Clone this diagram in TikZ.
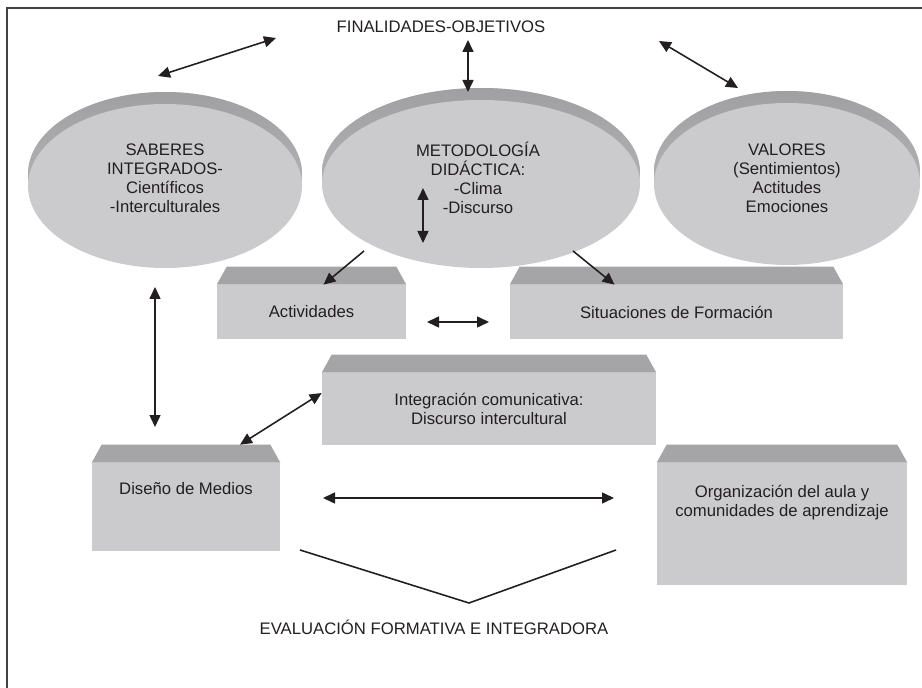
\documentclass[tikz,border=0pt]{standalone}
\usepackage{fontspec}
\setmainfont{Liberation Sans}
\usetikzlibrary{shapes.geometric,arrows.meta,shadows}

\definecolor{facegray}{HTML}{CBCBCD}
\definecolor{rimtop}{HTML}{A0A0A3}
\definecolor{rimlow}{HTML}{BEBEC1}
\definecolor{topgray}{HTML}{A5A5A8}
\definecolor{inkgray}{HTML}{231F20}

\tikzset{
  disc/.style={ellipse, fill=facegray, inner sep=0pt,
    copy shadow={shadow xshift=0pt, shadow yshift=0.24cm, top color=rimtop, bottom color=rimlow, draw=none}},
  prism/.style={rectangle, fill=facegray, inner sep=0pt, align=center},
  both/.style={{Triangle[length=0.24cm,width=0.22cm]}-{Triangle[length=0.24cm,width=0.22cm]}, line width=0.9pt, inkgray},
  single/.style={-{Triangle[length=0.24cm,width=0.22cm]}, line width=0.9pt, inkgray}
}

% dark top face of a box
\newcommand{\boxtop}[1]{%
  \fill[topgray] (#1.north west) -- ([shift={(0.2cm,0.36cm)}]#1.north west)
    -- ([shift={(-0.2cm,0.36cm)}]#1.north east) -- (#1.north east) -- cycle;}

\begin{document}
\begin{tikzpicture}[x=0.02cm, y=-0.02cm,
  every node/.style={font=\fontsize{9.5}{10.8}\selectfont, text=inkgray}]
\useasboundingbox (0,0) rectangle (922,688);
\draw[line width=1.2pt, inkgray!85] (7,688) -- (7,8) -- (922,8);

\node (fin) at (441,27) {FINALIDADES-OBJETIVOS};

% discs
\node (sab) at (165,186) [disc, minimum width=5.48cm, minimum height=3.28cm] {};
\node (met) at (481,184) [disc, minimum width=6.36cm, minimum height=3.36cm] {};
\node (val) at (787,184) [disc, minimum width=5.32cm, minimum height=3.24cm] {};
\node (sabtxt) at ([yshift=0.15cm]sab.center) [align=center]
  {SABERES\\INTEGRADOS-\\Científicos\\-Interculturales};
\node (mettxt) at ([xshift=-0.06cm,yshift=0.12cm]met.center) [align=center]
  {METODOLOGÍA\\DIDÁCTICA:\\-Clima\\-Discurso};
\node (valtxt) at ([yshift=0.12cm]val.center) [align=center]
  {VALORES\\(Sentimientos)\\Actitudes\\Emociones};

% boxes
\node (act) at (311.5,312) [prism, minimum width=3.78cm, minimum height=1.08cm] {Actividades};
\node (sit) at (676.5,312) [prism, minimum width=6.66cm, minimum height=1.08cm] {Situaciones de Formación};
\node (inte) at (489,409) [prism, minimum width=6.68cm, minimum height=1.44cm]
  {Integración comunicativa:\\Discurso intercultural};
\node (dis) at (186,507) [prism, minimum width=3.76cm, minimum height=1.76cm] {};
\node (org) at (782,524) [prism, minimum width=5.0cm, minimum height=2.44cm] {};
\node (distxt) at ([yshift=-0.52cm]dis.north) {Diseño de Medios};
\node (orgtxt) at ([yshift=-0.8cm]org.north) [align=center]
  {Organización del aula y\\comunidades de aprendizaje};
\boxtop{act}
\boxtop{sit}
\boxtop{inte}
\boxtop{dis}
\boxtop{org}

\node (eva) at (434,627) {EVALUACIÓN FORMATIVA E INTEGRADORA};

% loose arrow ends
\coordinate (f1) at (276,38);  \coordinate (s1) at (158,76);
\coordinate (f2) at (468,40);  \coordinate (m1) at (468,92);
\coordinate (f3) at (659,41);  \coordinate (v1) at (738,88);
\coordinate (m2) at (423,188); \coordinate (m3) at (423,243);
\coordinate (m4) at (364,251); \coordinate (m5) at (573,251);
\coordinate (a1) at (427,322); \coordinate (a2) at (489,322);
\coordinate (s2) at (155,287); \coordinate (d1) at (155,427);
\coordinate (d2) at (323,498); \coordinate (o1) at (614,498);
\coordinate (e1) at (300,550); \coordinate (e2) at (469,603); \coordinate (e3) at (616,550);

\draw [both] (f1) -- (s1);
\draw [both] (f2) -- (m1);
\draw [both] (f3) -- (v1);
\draw [both] (m2) -- (m3);
\draw [single] (m4) -- ([xshift=0.24cm]act.north);
\draw [single] (m5) -- ([xshift=-1.24cm]sit.north);
\draw [both] (a1) -- (a2);
\draw [both] (s2) -- (d1);
\draw [both] ([yshift=0.32cm]inte.west) -- ([xshift=1.08cm,yshift=0.36cm]dis.north);
\draw [both] (d2) -- (o1);
\draw [line width=0.9pt, inkgray] (e1) -- (e2) -- (e3);
\end{tikzpicture}
\end{document}
